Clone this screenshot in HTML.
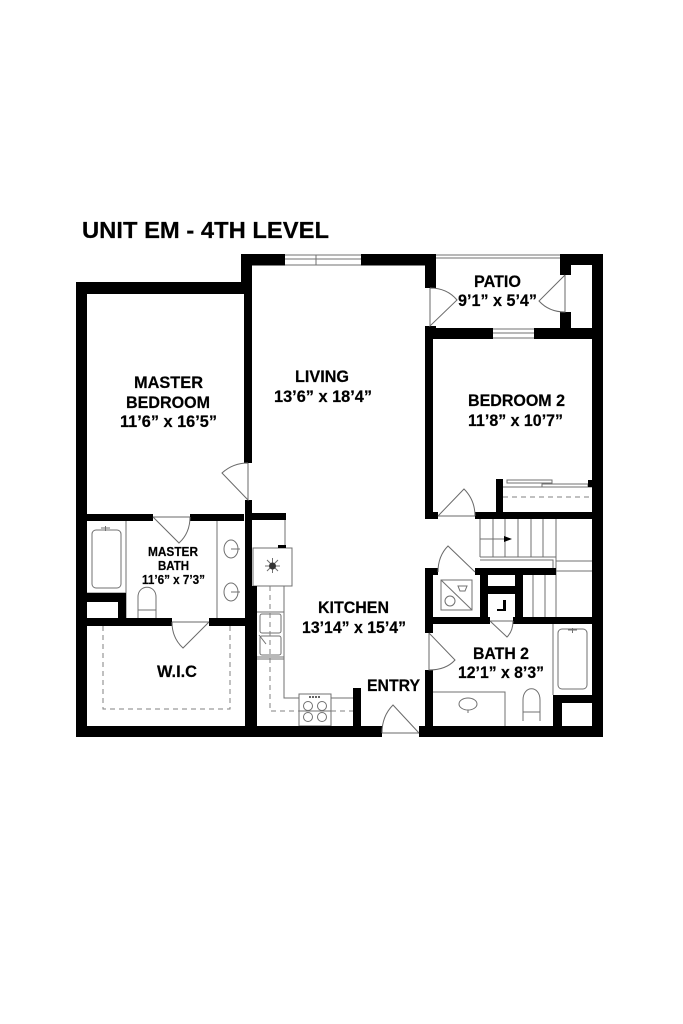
<!DOCTYPE html>
<html lang="en">
<head>
<meta charset="utf-8">
<title>Unit EM - 4th Level</title>
<style>
html,body{margin:0;padding:0;background:#fff;}
svg{display:block;}
text{font-family:"Liberation Sans",sans-serif;font-weight:bold;fill:#000;stroke:#000;stroke-width:.2;}
.w{fill:#000;}
.g{stroke:#707070;stroke-width:1;fill:none;}
.d{stroke:#6a6a6a;stroke-width:1;fill:none;}
.dash{stroke:#808080;stroke-width:1;fill:none;stroke-dasharray:5 4;}
.l{font-size:16.5px;}
.s{font-size:13px;}
</style>
</head>
<body>
<svg width="683" height="1024" viewBox="0 0 683 1024" xmlns="http://www.w3.org/2000/svg">
<rect width="683" height="1024" fill="#fff"/>

<!-- Fixtures and thin lines -->
<g class="g">
  <!-- windows -->
  <path d="M285 255H361M285 259H361M285 265H361M316 255V265"/>
  <path d="M436 255H560M436 258H560"/>
  <path d="M493 329H534M493 333H534M493 338H534"/>
  <!-- bedroom 2 closet -->
  <rect x="507" y="480" width="45" height="3"/>
  <rect x="542" y="484" width="46" height="3"/>
  <path d="M503 487H592"/>
  <!-- master bath -->
  <rect x="92" y="530" width="29" height="58" rx="4"/>
  <path d="M87 593H126M126 521V618M217 521V618"/>
  <path d="M101 528H110M105.500 526V531"/>
  <ellipse cx="231" cy="549" rx="7" ry="9"/>
  <ellipse cx="231" cy="592" rx="7" ry="9"/>
  <path d="M231 549H240M231 592H240"/>
  <path d="M138 618V597C138 584 156 584 156 597V618M138 610H156"/>
  <!-- kitchen -->
  <rect x="253" y="548" width="39" height="38" fill="#fff"/>
  <path d="M284 586V698H353M257 612H284M257 657H284M257 659H284"/>
  <rect x="260" y="614" width="21" height="19" rx="2"/>
  <rect x="260" y="636" width="21" height="19" rx="2"/>
  <path d="M259 635L266 644"/>
  <rect x="299" y="694" width="32" height="32" fill="#fff"/>
  <circle cx="308" cy="706" r="4.500"/>
  <circle cx="322" cy="706" r="4.500"/>
  <circle cx="308" cy="717" r="4.500"/>
  <circle cx="322" cy="717" r="4.500"/>
  <path d="M285 545V520"/>
  <!-- fridge icon -->
  <path d="M265 566H280M272.500 558V573M267 560L278 571M278 560L267 571"/>
  <!-- stairs -->
  <path d="M480 519V557M493 519V557M505 519V557M518 519V557M531 519V557M543 519V557M556 519V624"/>
  <path d="M480 539H505M480 557H556M480 560H553V568M556 561H592M556 571H592"/>
  <path d="M533 575V617M545 575V617"/>
  <!-- shower -->
  <rect x="441" y="580" width="31" height="30"/>
  <path d="M441 580L472 610"/>
  <circle cx="450" cy="601" r="5"/>
  <path d="M458 586H467L465 591H460Z"/>
  <!-- bath 2 -->
  <path d="M553 624V695"/>
  <rect x="558" y="629" width="29" height="60" rx="4"/>
  <path d="M568 630H577M572.500 628V633"/>
  <path d="M433 692H505V726"/>
  <ellipse cx="468" cy="704" rx="9" ry="6"/>
  <path d="M468 710V713"/>
  <path d="M523 721V700C523 685 540 685 540 700V721M523 712H540"/>
</g>
<path d="M270 586V711H299M331 711H353" class="dash"/>
<path d="M299 711H331" class="g"/>
<path d="M503 497H592" class="dash"/>
<path d="M103 626V709H230V626" class="dash"/>
<circle cx="272.500" cy="566" r="3.500" fill="#333"/>
<path d="M309 697H320" stroke="#666" stroke-width="2" stroke-dasharray="2 1" fill="none"/>
<path d="M504 536L512 539L504 542Z" fill="#000"/>

<!-- Walls -->
<g class="w">
  <!-- master bedroom outer -->
  <rect x="76" y="282" width="176" height="12"/>
  <rect x="76" y="282" width="11" height="455"/>
  <rect x="244" y="282" width="8" height="181"/>
  <rect x="241" y="254" width="11" height="40"/>
  <rect x="241" y="254" width="44" height="11.500"/>
  <rect x="361" y="254" width="75" height="11.500"/>
  <rect x="425" y="254" width="11" height="34"/>
  <rect x="560" y="254" width="43" height="11"/>
  <rect x="560" y="254" width="11" height="21"/>
  <rect x="560" y="312" width="11" height="20"/>
  <rect x="592" y="254" width="11" height="483"/>
  <!-- patio bottom -->
  <rect x="425" y="326" width="11" height="13"/>
  <rect x="425" y="328" width="68" height="11"/>
  <rect x="534" y="328" width="58" height="11"/>
  <!-- bedroom 2 -->
  <rect x="425" y="328" width="8" height="191"/>
  <rect x="425" y="512" width="13" height="7"/>
  <rect x="475" y="512" width="117" height="7"/>
  <rect x="496" y="479" width="7" height="33"/>
  <rect x="588" y="480" width="4" height="7"/>
  <!-- master bath -->
  <rect x="87" y="514" width="66" height="7"/>
  <rect x="190" y="514" width="54" height="7"/>
  <rect x="245" y="500" width="7" height="226"/>
  <rect x="245" y="513" width="41" height="7"/>
  <rect x="278" y="545" width="8" height="3"/>
  <rect x="245" y="586" width="12" height="140"/>
  <rect x="87" y="593" width="39" height="9"/>
  <rect x="118" y="593" width="8" height="29"/>
  <rect x="87" y="618" width="85" height="8"/>
  <rect x="209" y="618" width="36" height="8"/>
  <!-- bottom -->
  <rect x="76" y="726" width="306" height="11"/>
  <rect x="419" y="726" width="184" height="11"/>
  <rect x="353" y="688" width="8" height="38"/>
  <!-- center core -->
  <rect x="425" y="568" width="8" height="65"/>
  <rect x="425" y="568" width="13" height="7"/>
  <rect x="475" y="568" width="81" height="7"/>
  <rect x="480" y="568" width="8" height="56"/>
  <rect x="515" y="568" width="8" height="56"/>
  <rect x="480" y="586" width="43" height="8"/>
  <rect x="425" y="617" width="65" height="7"/>
  <rect x="513" y="617" width="79" height="7"/>
  <rect x="425" y="670" width="8" height="60"/>
  <rect x="553" y="695" width="39" height="8"/>
  <rect x="553" y="695" width="9" height="31"/>
  <!-- L glyph in closet -->
  <path d="M503 600H506V611H497V609H503Z"/>
</g>

<!-- Doors -->
<g class="d">
  <path d="M248 463V500L222 473Q233 463 248 463"/>
  <path d="M153 517H190M153 517L179 543Q190 533 190 517"/>
  <path d="M172 622H209M209 622L183 648Q172 638 172 622"/>
  <path d="M430 288V326L457 300Q447 288 430 288"/>
  <path d="M565 275V312Q549 312 539 301L565 275"/>
  <path d="M438 516H475M438 516L464 489Q475 500 475 516"/>
  <path d="M475 572L448 546Q438 556 438 572"/>
  <path d="M490 621H513M490 621L507 637Q513 631 513 621"/>
  <path d="M429 633V670Q446 670 455 660L429 633"/>
  <path d="M382 733H419M419 733L393 705Q382 716 382 733"/>
</g>

<!-- Labels -->
<text x="82" y="238" font-size="23" textLength="247" lengthAdjust="spacingAndGlyphs">UNIT EM - 4TH LEVEL</text>

<text class="l" x="134" y="388" textLength="69" lengthAdjust="spacingAndGlyphs">MASTER</text>
<text class="l" x="126" y="408" textLength="84" lengthAdjust="spacingAndGlyphs">BEDROOM</text>
<text class="l" x="120" y="427" textLength="97" lengthAdjust="spacingAndGlyphs">11’6” x 16’5”</text>

<text class="l" x="295" y="382" textLength="54" lengthAdjust="spacingAndGlyphs">LIVING</text>
<text class="l" x="274" y="402" textLength="98" lengthAdjust="spacingAndGlyphs">13’6” x 18’4”</text>

<text class="l" x="474" y="287" textLength="47" lengthAdjust="spacingAndGlyphs">PATIO</text>
<text class="l" x="458" y="306" textLength="79" lengthAdjust="spacingAndGlyphs">9’1” x 5’4”</text>

<text class="l" x="468" y="406" textLength="97" lengthAdjust="spacingAndGlyphs">BEDROOM 2</text>
<text class="l" x="468" y="426" textLength="95" lengthAdjust="spacingAndGlyphs">11’8” x 10’7”</text>

<text class="s" x="148" y="556" textLength="50" lengthAdjust="spacingAndGlyphs">MASTER</text>
<text class="s" x="158" y="570" textLength="31" lengthAdjust="spacingAndGlyphs">BATH</text>
<text class="s" x="142" y="584" textLength="63" lengthAdjust="spacingAndGlyphs">11’6” x 7’3”</text>

<text x="157" y="677" font-size="17" textLength="40" lengthAdjust="spacingAndGlyphs">W.I.C</text>

<text class="l" x="318" y="613" textLength="71" lengthAdjust="spacingAndGlyphs">KITCHEN</text>
<text class="l" x="302" y="633" textLength="104" lengthAdjust="spacingAndGlyphs">13’14” x 15’4”</text>

<text class="l" x="367" y="691" textLength="53" lengthAdjust="spacingAndGlyphs">ENTRY</text>

<text class="l" x="473" y="659" textLength="56" lengthAdjust="spacingAndGlyphs">BATH 2</text>
<text class="l" x="458" y="678" textLength="86" lengthAdjust="spacingAndGlyphs">12’1” x 8’3”</text>
</svg>
</body>
</html>
